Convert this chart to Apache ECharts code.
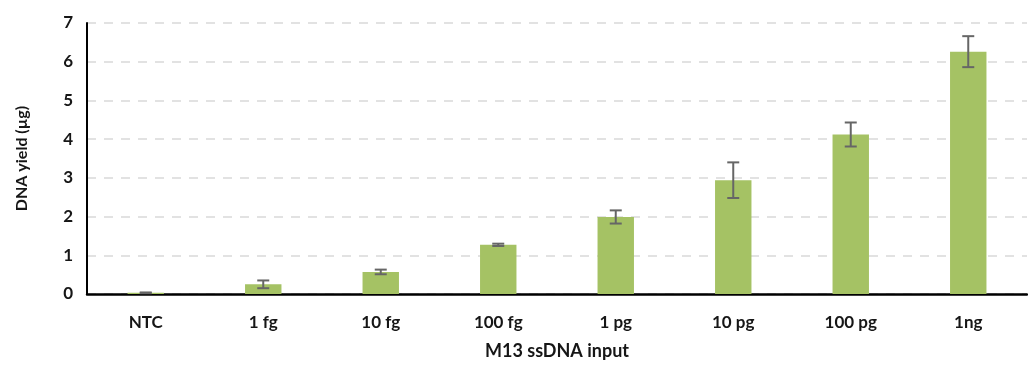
<!DOCTYPE html>
<html>
<head>
<meta charset="utf-8">
<script src="https://cdn.jsdelivr.net/npm/echarts@6/dist/echarts.min.js"></script>
<style>
  html, body { margin: 0; padding: 0; background: #fff; }
  #chart { width: 1028px; height: 365px; }
</style>
</head>
<body>
<div id="chart"></div>
<script>
// DNA yield for each M13 ssDNA input amount, with error bars
const categories = ['NTC', '1 fg', '10 fg', '100 fg', '1 pg', '10 pg', '100 pg', '1ng'];
const yieldValues = [0.03, 0.25, 0.57, 1.27, 1.99, 2.94, 4.12, 6.26];
const yieldErrors = [0.01, 0.10, 0.06, 0.03, 0.17, 0.46, 0.31, 0.40];
const yTicks = [0, 1, 2, 3, 4, 5, 6, 7];

const FONT = 'Lato, "Open Sans", sans-serif';
const TEXT = '#161616';
const errorData = categories.map((c, i) => [i, yieldValues[i] - yieldErrors[i], yieldValues[i] + yieldErrors[i]]);

const chart = echarts.init(document.getElementById('chart'), null, { renderer: 'canvas' });
chart.setOption({
  animation: false,
  grid: { left: 87, right: 1, top: 23, bottom: 71 },
  xAxis: {
    type: 'category',
    data: categories,
    name: 'M13 ssDNA input',
    nameLocation: 'middle',
    nameGap: 48,
    nameTextStyle: { fontFamily: FONT, fontWeight: 'bold', fontSize: 18, color: TEXT },
    axisLine: { lineStyle: { color: '#000', width: 2.5 } },
    axisTick: { show: false },
    axisLabel: { fontFamily: FONT, fontWeight: 'bold', fontSize: 17, color: TEXT, margin: 20 }
  },
  yAxis: {
    type: 'value',
    min: yTicks[0],
    max: yTicks[yTicks.length - 1],
    interval: 1,
    name: 'DNA yield (µg)',
    nameLocation: 'middle',
    nameGap: 57,
    nameRotate: 90,
    nameTextStyle: { fontFamily: FONT, fontWeight: 'bold', fontSize: 16, color: TEXT },
    axisLine: { show: true, lineStyle: { color: '#000', width: 2 } },
    axisTick: { show: false },
    axisLabel: { fontFamily: FONT, fontWeight: 'bold', fontSize: 17, color: TEXT, margin: 14 },
    splitLine: { show: true, lineStyle: { color: '#d9d9d9', width: 1.5, type: [9, 8] } }
  },
  series: [
    {
      type: 'bar',
      data: yieldValues,
      barWidth: '31%',
      itemStyle: { color: '#a5c264' },
      z: 2
    },
    {
      type: 'custom',
      data: errorData,
      z: 3,
      renderItem: function (params, api) {
        const x = api.value(0);
        const lo = api.coord([x, api.value(1)]);
        const hi = api.coord([x, api.value(2)]);
        const half = 6;
        const style = { stroke: '#666666', lineWidth: 2 };
        return {
          type: 'group',
          children: [
            { type: 'line', shape: { x1: lo[0], y1: lo[1], x2: hi[0], y2: hi[1] }, style: style },
            { type: 'line', shape: { x1: hi[0] - half, y1: hi[1], x2: hi[0] + half, y2: hi[1] }, style: style },
            { type: 'line', shape: { x1: lo[0] - half, y1: lo[1], x2: lo[0] + half, y2: lo[1] }, style: style }
          ]
        };
      }
    }
  ]
});
</script>
</body>
</html>
